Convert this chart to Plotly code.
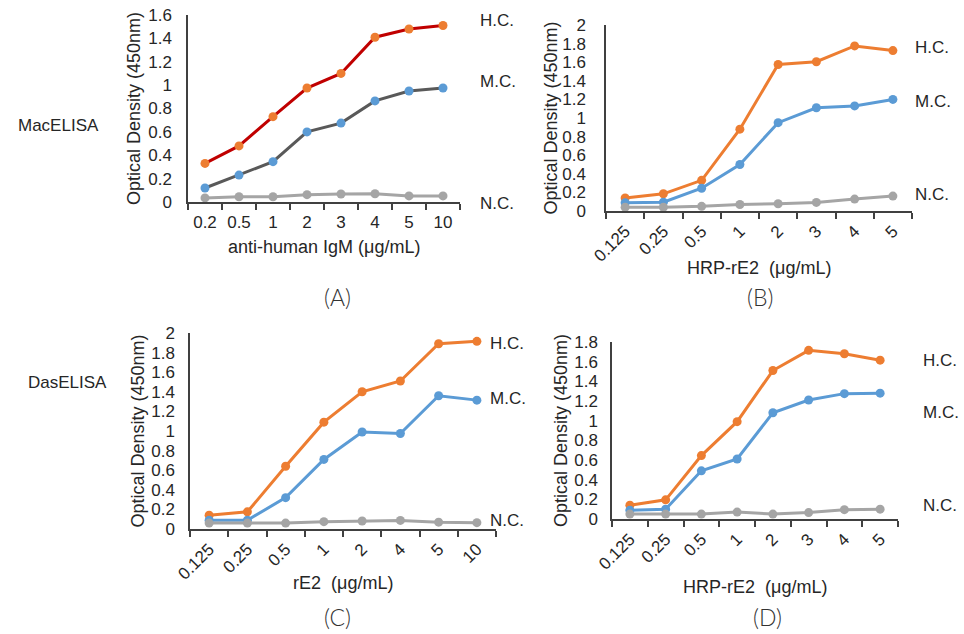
import plotly.graph_objects as go

W, H = 964, 634

# ---------------- data ----------------
a_cats = ["0.2", "0.5", "1", "2", "3", "4", "5", "10"]
a_hc = [0.33, 0.48, 0.73, 0.975, 1.10, 1.41, 1.48, 1.51]
a_mc = [0.12, 0.23, 0.345, 0.60, 0.675, 0.865, 0.95, 0.975]
a_nc = [0.035, 0.045, 0.045, 0.063, 0.068, 0.071, 0.052, 0.052]

b_cats = ["0.125", "0.25", "0.5", "1", "2", "3", "4", "5"]
b_hc = [0.14, 0.185, 0.33, 0.88, 1.575, 1.605, 1.775, 1.725]
b_mc = [0.09, 0.095, 0.245, 0.50, 0.95, 1.11, 1.13, 1.20]
b_nc = [0.04, 0.04, 0.05, 0.07, 0.078, 0.092, 0.128, 0.16]

c_cats = ["0.125", "0.25", "0.5", "1", "2", "4", "5", "10"]
c_hc = [0.14, 0.175, 0.64, 1.09, 1.40, 1.51, 1.89, 1.915]
c_mc = [0.09, 0.09, 0.32, 0.71, 0.99, 0.975, 1.36, 1.315]
c_nc = [0.06, 0.06, 0.06, 0.075, 0.082, 0.088, 0.07, 0.065]

d_cats = ["0.125", "0.25", "0.5", "1", "2", "3", "4", "5"]
d_hc = [0.14, 0.195, 0.645, 0.99, 1.51, 1.715, 1.68, 1.615]
d_mc = [0.09, 0.10, 0.49, 0.61, 1.08, 1.21, 1.275, 1.28]
d_nc = [0.05, 0.05, 0.05, 0.07, 0.05, 0.065, 0.095, 0.10]

series_names = ["H.C.", "M.C.", "N.C."]
x_titles = ["anti-human IgM (μg/mL)", "HRP-rE2  (μg/mL)", "rE2  (μg/mL)", "HRP-rE2  (μg/mL)"]
y_title = "Optical Density (450nm)"
panel_tags = ["(A)", "(B)", "(C)", "(D)"]
row_tags = ["MacELISA", "DasELISA"]

ORANGE = "#ED7D31"
BLUE = "#5B9BD5"
GRAY = "#A5A5A5"
DARKRED = "#C00000"
DARKGRAY = "#595959"
TXT = "#262626"
AXC = "#404040"
FONT = "Liberation Sans, Arial, sans-serif"


def px_x(x):
    return x / W


def px_y(y):
    return 1 - y / H


fig = go.Figure()

panels = [
    # suffix, cats, series, domain x px, domain y px (bottom, top), ymax, angle,
    # ticklabel standoff, title standoff, xtitle pos, series label x, series label ys, tag pos
    ("", a_cats, [(a_hc, DARKRED, ORANGE), (a_mc, DARKGRAY, BLUE), (a_nc, GRAY, GRAY)],
     (188, 460), (202, 15), 1.6, 0, 11, 3, (324, 247), 478, (20, 82, 203), (337, 297)),
    ("2", b_cats, [(b_hc, ORANGE, ORANGE), (b_mc, BLUE, BLUE), (b_nc, GRAY, GRAY)],
     (606, 912), (211, 25), 2.0, -45, 15, 0, (759, 268), 913, (48, 101, 195), (760, 297)),
    ("3", c_cats, [(c_hc, ORANGE, ORANGE), (c_mc, BLUE, BLUE), (c_nc, GRAY, GRAY)],
     (190, 496), (529, 333), 2.0, -45, 10, 2, (343, 583), 488, (343, 398, 520), (337, 617)),
    ("4", d_cats, [(d_hc, ORANGE, ORANGE), (d_mc, BLUE, BLUE), (d_nc, GRAY, GRAY)],
     (612, 898), (519, 342), 1.8, -45, 9, 2, (755, 587), 921, (360, 412, 505), (767, 617)),
]

for i, (sfx, cats, series, (x0, x1), (yb, yt), ymax, ang, tls, tst,
        (xtx, xty), lx, lys, (tgx, tgy)) in enumerate(panels):
    for (vals, lc, mc), nm in zip(series, series_names):
        fig.add_trace(go.Scatter(
            x=cats, y=vals, mode="lines+markers", name=nm,
            line=dict(color=lc, width=3),
            marker=dict(color=mc, size=9),
            xaxis="x" + sfx, yaxis="y" + sfx, showlegend=False,
            hoverinfo="skip",
        ))
    xa = dict(
        domain=[px_x(x0), px_x(x1)], anchor="y" + sfx,
        type="category", showline=True, linecolor=AXC, linewidth=1.5,
        ticks="outside", ticklen=6, tickcolor=AXC, tickwidth=1.5,
        tickson="boundaries", showgrid=False, zeroline=False,
        tickangle=ang, tickfont=dict(family=FONT, size=17, color=TXT),
        ticklabelstandoff=2 if ang else 4,
        range=[-0.5, 7.5], fixedrange=True, automargin=False,
    )
    ya = dict(
        domain=[px_y(yb), px_y(yt)], anchor="x" + sfx,
        range=[0, ymax], dtick=0.2, showline=True, linecolor=AXC, linewidth=1.5,
        ticks="", showgrid=False, zeroline=False,
        tickfont=dict(family=FONT, size=17, color=TXT), ticklabelstandoff=tls,
        title=dict(text=y_title, font=dict(family=FONT, size=18, color=TXT), standoff=tst),
        fixedrange=True, automargin=False,
    )
    fig.update_layout(**{"xaxis" + sfx: xa, "yaxis" + sfx: ya})

    # x-axis title
    fig.add_annotation(text=x_titles[i], x=px_x(xtx), y=px_y(xty), xref="paper", yref="paper",
                       xanchor="center", yanchor="middle", showarrow=False,
                       font=dict(family=FONT, size=18, color=TXT))
    # series labels
    for nm, ly in zip(series_names, lys):
        fig.add_annotation(text=nm, x=px_x(lx), y=px_y(ly), xref="paper", yref="paper",
                           xanchor="left", yanchor="middle", showarrow=False,
                           font=dict(family=FONT, size=17, color=TXT))
    # panel tag
    fig.add_annotation(text=panel_tags[i], x=px_x(tgx), y=px_y(tgy), xref="paper", yref="paper",
                       xanchor="center", yanchor="middle", showarrow=False,
                       font=dict(family="Lato, Noto Sans, sans-serif", size=23, color="#333333", weight=300))

for t, x, y in zip(row_tags, (58, 67), (125, 382)):
    fig.add_annotation(text=t, x=px_x(x), y=px_y(y), xref="paper", yref="paper",
                       xanchor="center", yanchor="middle", showarrow=False,
                       font=dict(family=FONT, size=17, color=TXT))

fig.update_layout(
    width=W, height=H, margin=dict(l=0, r=0, t=0, b=0, autoexpand=False),
    paper_bgcolor="white", plot_bgcolor="white",
)

fig.write_html("out.html", config={"displayModeBar": False},
               post_script="document.body.style.margin='0';")
